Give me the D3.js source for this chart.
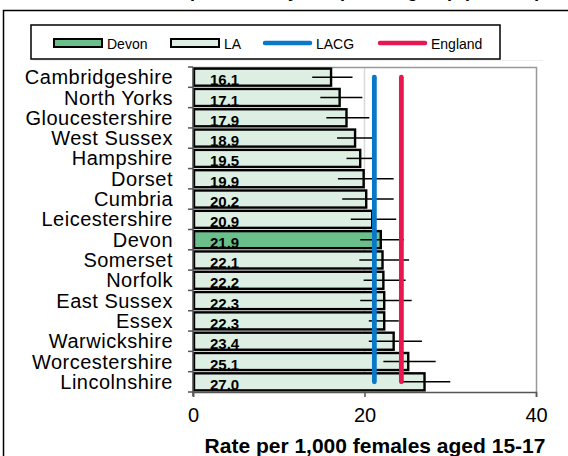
<!DOCTYPE html>
<html>
<head>
<meta charset="utf-8">
<script src="https://cdn.jsdelivr.net/npm/d3@7"></script>
<style>
  html, body { margin: 0; padding: 0; background: #fff; }
  svg { display: block; font-family: "Liberation Sans", Arial, sans-serif; }
</style>
</head>
<body>
<svg id="chart" width="568" height="456"></svg>
<script>
const titleText = "Under 18 conception rate by comparator group (2014-16)";
const categories = ["Cambridgeshire","North Yorks","Gloucestershire","West Sussex","Hampshire","Dorset","Cumbria","Leicestershire","Devon","Somerset","Norfolk","East Sussex","Essex","Warwickshire","Worcestershire","Lincolnshire"];
const values = [16.1,17.1,17.9,18.9,19.5,19.9,20.2,20.9,21.9,22.1,22.2,22.3,22.3,23.4,25.1,27.0];
const lowerCI = [13.9,14.85,15.55,16.8,17.9,16.9,17.4,18.4,19.5,19.4,19.9,19.5,20.5,20.5,22.2,24.3];
const upperCI = [18.6,19.75,20.56,21.0,21.0,23.4,23.4,23.7,24.6,25.2,24.8,25.5,24.0,26.7,28.3,30.0];
const highlight = "Devon";
const lacgValue = 21.15;
const englandValue = 24.3;
const xTicks = [0,20,40];
const xTitle = "Rate per 1,000 females aged 15-17";
const legendLabels = ["Devon","LA","LACG","England"];

const colors = { devon:"#6abf8a", la:"#ddeee2", lacg:"#0a78c8", england:"#e8174f" };

const svg = d3.select("#chart");

// title (cut off at top as in reference)
svg.append("text").attr("x",541).attr("y",-3.5).attr("text-anchor","end")
  .attr("font-size",18).attr("font-weight","bold").text(titleText);

// outer border
svg.append("rect").attr("x",3.5).attr("y",10.5).attr("width",580).attr("height",460)
  .attr("fill","none").attr("stroke","#000").attr("stroke-width",1.5);

// legend box
svg.append("rect").attr("x",31).attr("y",25).attr("width",469).attr("height",34)
  .attr("fill","#fff").attr("stroke","#000").attr("stroke-width",1.5);
svg.append("line").attr("x1",33).attr("x2",543).attr("y1",60.5).attr("y2",60.5)
  .attr("stroke","#eee").attr("stroke-width",1);

const legX = [54,171,263,378];
const lg = svg.append("g");
legendLabels.forEach((lab,i)=>{
  const lx = legX[i];
  if (i < 2) {
    lg.append("rect").attr("x",lx).attr("y",39).attr("width",48).attr("height",8)
      .attr("fill", i===0?colors.devon:colors.la).attr("stroke","#000").attr("stroke-width",2);
  } else {
    lg.append("line").attr("x1",lx+2).attr("x2",lx+47).attr("y1",43).attr("y2",43)
      .attr("stroke", i===2?colors.lacg:colors.england).attr("stroke-width",4.5).attr("stroke-linecap","round");
  }
  lg.append("text").attr("x",lx+53).attr("y",48.5).attr("font-size",14).attr("fill","#000").text(lab);
});

// scales
const pLeft = 193, pRight = 536, pTop = 67, pBottom = 392;
const x = d3.scaleLinear().domain([0,40]).range([pLeft,pRight]);
const y = d3.scaleBand().domain(categories).range([pTop,pBottom]).paddingInner(0.16).paddingOuter(0.08);

// gridline at 20
svg.append("g").selectAll("line").data(xTicks.filter(t=>t>0 && t<40)).join("line")
  .attr("x1",d=>x(d)).attr("x2",d=>x(d)).attr("y1",pTop).attr("y2",pBottom)
  .attr("stroke","#d9d9d9").attr("stroke-width",1.5);

// frame top and right
svg.append("path").attr("d",`M${pLeft},${pTop+0.5}H${pRight+0.5}V${pBottom}`)
  .attr("fill","none").attr("stroke","#999").attr("stroke-width",1.5);

// bars
const bandStep = (pBottom-pTop)/categories.length;
svg.append("g").selectAll("rect").data(categories).join("rect")
  .attr("x",x(0)+1).attr("y",d=>y(d))
  .attr("width",(d,i)=>x(values[i])-x(0)-1).attr("height",y.bandwidth())
  .attr("fill",d=>d===highlight?colors.devon:colors.la)
  .attr("stroke","#000").attr("stroke-width",2.4);

// value labels
svg.append("g").selectAll("text").data(categories).join("text")
  .attr("x",x(0)+17).attr("y",d=>y(d)+y.bandwidth()-0.5)
  .attr("font-size",15).attr("font-weight","bold").attr("fill","#000")
  .text((d,i)=>values[i].toFixed(1));

// error bars
svg.append("g").selectAll("line").data(categories).join("line")
  .attr("x1",(d,i)=>x(lowerCI[i])).attr("x2",(d,i)=>x(upperCI[i]))
  .attr("y1",d=>y(d)+y.bandwidth()/2).attr("y2",d=>y(d)+y.bandwidth()/2)
  .attr("stroke","#000").attr("stroke-width",1.5);

// reference lines
const yFirst = y(categories[0])+y.bandwidth()/2;
const yLast = y(categories[categories.length-1])+y.bandwidth()/2;
[[lacgValue,colors.lacg],[englandValue,colors.england]].forEach(([v,c])=>{
  svg.append("line").attr("x1",x(v)).attr("x2",x(v)).attr("y1",yFirst).attr("y2",yLast)
    .attr("stroke",c).attr("stroke-width",4.8).attr("stroke-linecap","round");
});

// y axis
const yAxisG = svg.append("g");
yAxisG.append("line").attr("x1",pLeft).attr("x2",pLeft).attr("y1",pTop).attr("y2",pBottom+4)
  .attr("stroke","#555").attr("stroke-width",1.5);
const boundaries = d3.range(categories.length+1).map(i=>pTop+i*bandStep);
yAxisG.selectAll("line.tk").data(boundaries).join("line").attr("class","tk")
  .attr("x1",pLeft-5).attr("x2",pLeft).attr("y1",d=>d).attr("y2",d=>d)
  .attr("stroke","#555").attr("stroke-width",1.5);
yAxisG.selectAll("text").data(categories).join("text")
  .attr("x",173).attr("y",d=>y(d)+y.bandwidth()-1.5).attr("text-anchor","end")
  .attr("font-size",20).attr("letter-spacing",0.5).attr("fill","#000").text(d=>d);

// x axis
const xAxisG = svg.append("g").attr("transform",`translate(0,${pBottom})`)
  .call(d3.axisBottom(x).tickValues(xTicks).tickSize(5).tickPadding(11).tickFormat(d3.format("d")));
xAxisG.select(".domain").attr("stroke","#555").attr("stroke-width",1.5);
xAxisG.selectAll(".tick line").attr("stroke","#555").attr("stroke-width",1.5);
xAxisG.selectAll(".tick text").attr("font-size",20).attr("fill","#000")
  .attr("font-family","'Liberation Sans', Arial, sans-serif");

svg.append("text").attr("x",375).attr("y",453).attr("text-anchor","middle")
  .attr("font-size",21).attr("font-weight","bold").attr("fill","#000").text(xTitle);
</script>
</body>
</html>
